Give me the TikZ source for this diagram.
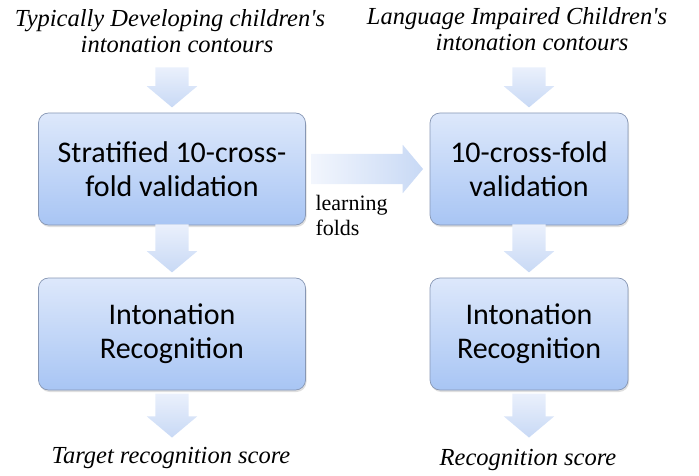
\documentclass[tikz,border=0pt]{standalone}
\usepackage{fontspec}
\setmainfont{Liberation Serif}
\newfontfamily\boxfont{Carlito}
\usetikzlibrary{shapes.arrows,shadows}

\definecolor{boxtop}{HTML}{DDE8FB}
\definecolor{boxbot}{HTML}{A8C5F4}
\definecolor{boxline}{HTML}{8797B4}
\definecolor{arrlight}{HTML}{EAF0FC}
\definecolor{arrdark}{HTML}{C8D9F5}

\tikzset{
  stage/.style={draw=boxline, line width=0.7pt, rounded corners=10pt,
    top color=boxtop, bottom color=boxbot, align=center,
    font=\boxfont\fontsize{30}{34}\selectfont,
    drop shadow={shadow xshift=1pt, shadow yshift=-2pt, opacity=0.25}},
  label/.style={align=center, font=\itshape\fontsize{24.5}{26}\selectfont},
  downarrow/.style={single arrow, shape border rotate=270,
    inner xsep=16.5pt, inner ysep=0pt,
    minimum width=50pt, single arrow head extend=8.5pt,
    single arrow tip angle=100, top color=arrlight, bottom color=arrdark},
  rightarrow/.style={single arrow, inner ysep=15pt, inner xsep=0pt,
    minimum width=48pt, single arrow head extend=9pt,
    single arrow tip angle=100, left color=arrlight!60!white, right color=arrdark}
}

\begin{document}
\begin{tikzpicture}[x=1pt, y=-1pt]
  \useasboundingbox (0,0) rectangle (699,476);

  \node[label] (tdin) at (170,31) {Typically Developing children\textquotesingle s\\\hspace*{14pt}intonation contours};
  \node[label] (liin) at (517,29) {Language Impaired Children\textquotesingle s\\\hspace*{30pt}intonation contours};

  \node[stage, minimum width=267pt, minimum height=112pt] (strat) at (172,169) {Stratified 10-cross-\\fold validation};
  \node[stage, minimum width=267pt, minimum height=112pt] (recl) at (172,334) {Intonation\\Recognition};
  \node[stage, minimum width=198pt, minimum height=112pt] (cross) at (529,169) {10-cross-fold\\validation};
  \node[stage, minimum width=198pt, minimum height=112pt] (recr) at (529,334) {Intonation\\Recognition};

  \node[label] (target) at (171,458) {Target recognition score};
  \node[label] (score) at (528,460) {Recognition score};

  \node[downarrow, minimum height=40pt, anchor=tip] (a1) at ([yshift=5pt]strat.north) {};
  \node[downarrow, minimum height=48pt, anchor=tip] (a2) at ([yshift=5pt]recl.north) {};
  \node[downarrow, minimum height=44pt, anchor=tail] (a3) at ([yshift=-3pt]recl.south) {};
  \node[downarrow, minimum height=40pt, anchor=tip] (b1) at ([yshift=5pt]cross.north) {};
  \node[downarrow, minimum height=48pt, anchor=tip] (b2) at ([yshift=5pt]recr.north) {};
  \node[downarrow, minimum height=44pt, anchor=tail] (b3) at ([yshift=-3pt]recr.south) {};

  \node[rightarrow, minimum height=112pt, anchor=tail] (fold) at ([xshift=5pt]strat.east) {};
  \node[anchor=north west, align=left, font=\fontsize{22}{25}\selectfont] (learn) at (312,192) {learning\\folds};
\end{tikzpicture}
\end{document}
